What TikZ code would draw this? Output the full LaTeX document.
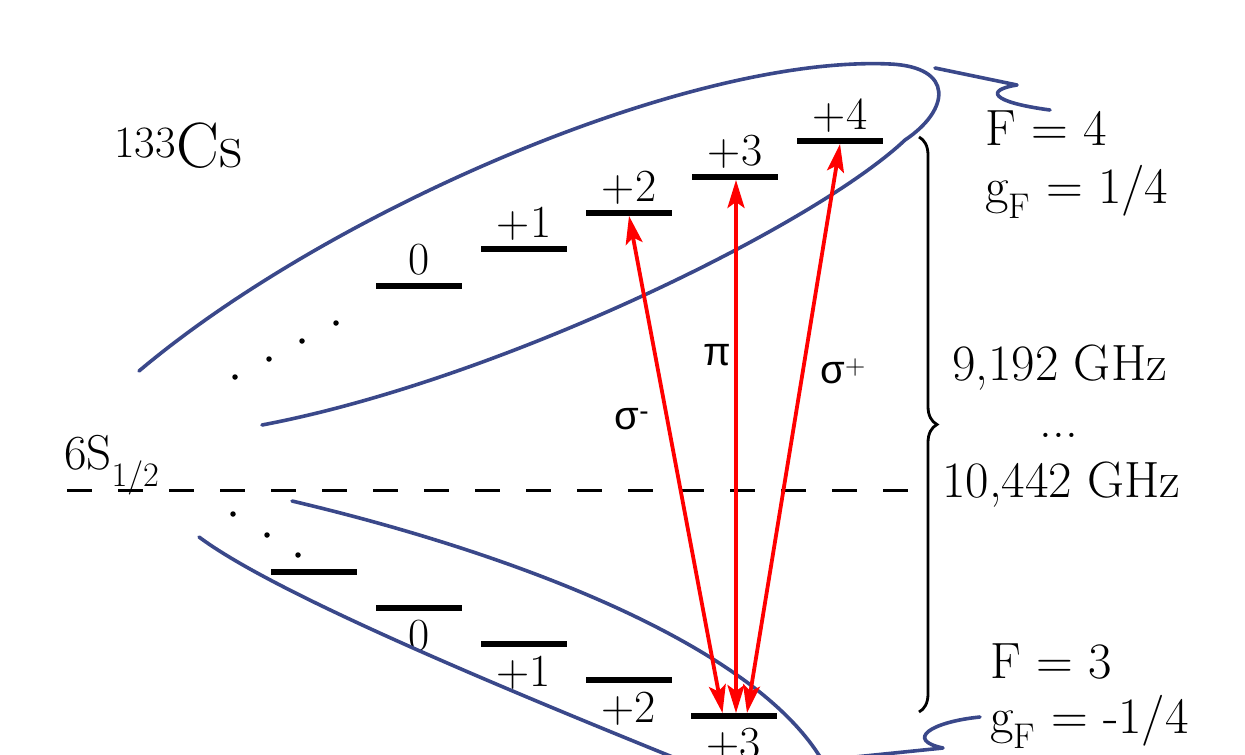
\documentclass[tikz,border=0pt]{standalone}
\usepackage{fontspec}
\newfontfamily\grk{Liberation Sans}
\usetikzlibrary{arrows.meta,decorations.pathreplacing}
\definecolor{ellblue}{RGB}{58,72,138}
\newcommand\bigfs{\fontsize{46}{50}\selectfont}
\newcommand\rfs{\fontsize{51}{55}\selectfont}
\newcommand\hugefs{\fontsize{64}{68}\selectfont}
\newcommand\grkfs{\fontsize{40}{44}\selectfont}
\begin{document}
\begin{tikzpicture}[x=1pt,y=-1pt,
  lvl/.style={fill=black, inner sep=0pt, minimum width=86pt, minimum height=5.5pt},
  lab/.style={anchor=base, inner sep=0pt, font=\bigfs},
  rlab/.style={anchor=base west, inner sep=0pt, font=\rfs},
  ell/.style={draw=ellblue, line width=3.6pt, line cap=round, line join=round},
  arr/.style={draw=red, line width=3.8pt, {Stealth[length=28pt,width=17pt,inset=6pt]}-{Stealth[length=28pt,width=17pt,inset=6pt]}},
  dotm/.style={fill=black, circle, inner sep=0pt, minimum size=5.5pt},
  glab/.style={inner sep=0pt, font=\grk\grkfs}]
\useasboundingbox (0,0) rectangle (1245,755);
\clip (0,0) rectangle (1245,755);
% upper levels F=4
\node[lvl] (u0) at (419,286) {};
\node[lvl] (u1) at (524,249) {};
\node[lvl] (u2) at (629,213) {};
\node[lvl] (u3) at (735,177) {};
\node[lvl] (u4) at (840,141) {};
\node[lab] (tu0) at (419,274) {0};
\node[lab] (tu1) at (524,237) {+1};
\node[lab] (tu2) at (629,201) {+2};
\node[lab] (tu3) at (735,165) {+3};
\node[lab] (tu4) at (840,129) {+4};
% lower levels F=3
\node[lvl] (lm) at (313.5,572) {};
\node[lvl] (l0) at (419,608) {};
\node[lvl] (l1) at (523.5,644) {};
\node[lvl] (l2) at (628.5,680) {};
\node[lvl] (l3) at (733.5,716) {};
\node[lab] (tl0) at (419,650) {0};
\node[lab] (tl1) at (523.5,686) {+1};
\node[lab] (tl2) at (628.5,722) {+2};
\node[lab] (tl3) at (733.5,758) {+3};
% dots
\foreach \p [count=\i] in {(235,377),(269,359),(302,341),(336,323)} \node[dotm] (dt\i) at \p {};
\foreach \p [count=\i] in {(233,514),(267,535),(298,555)} \node[dotm] (db\i) at \p {};
% dashed line
\coordinate (d1) at (67,490);
\coordinate (d2) at (912,490);
\draw[line width=3pt, dash pattern=on 25pt off 26pt] (d1) -- (d2);
\node[anchor=base west, inner sep=0pt, font=\fontsize{49}{53}\selectfont] (s12) at (64,469) {6S\textsubscript{1/2}};
\node[anchor=base west, inner sep=0pt, font=\hugefs] (cs) at (114,167) {\textsuperscript{133}Cs};
% upper ellipse (F=4)
\coordinate (e1) at (139,371);
\coordinate (e2) at (890,64);
\coordinate (e3) at (905,140);
\coordinate (e4) at (262,425);
\draw[ell] (e1) .. controls (330,210) and (690,55) .. (e2)
  .. controls (955,67) and (950,110) .. (e3)
  .. controls (815,225) and (500,380) .. (e4);
% lower ellipse (F=3)
\coordinate (f1) at (292,501);
\coordinate (f2) at (822,760);
\coordinate (f3) at (199,537);
\coordinate (f4) at (680,760);
\draw[ell] (f1) .. controls (500,550) and (750,640) .. (f2);
\draw[ell] (f3) .. controls (270,590) and (470,675) .. (f4);
% squiggles
\coordinate (q1) at (935,68);
\coordinate (q2) at (1017,85);
\coordinate (q3) at (1050,110);
\draw[ell] (q1) -- (q2) .. controls (985,90) and (990,102) .. (q3);
\coordinate (w1) at (845,758);
\coordinate (w2) at (943,748);
\coordinate (w3) at (980,717);
\draw[ell] (w1) -- (w2) .. controls (905,740) and (930,722) .. (w3);
% arrows
\draw[arr] (u2.south) -- ([xshift=-11pt]l3.north);
\draw[arr] ([xshift=1pt]u3.south) -- ([xshift=2.5pt]l3.north);
\draw[arr] (u4.south) -- ([xshift=13.5pt]l3.north);
\node[glab] (sm) at (632,419) {σ\textsuperscript{-}};
\node[glab] (pi) at (717,355) {π};
\node[glab] (sp) at (843,371) {σ\textsuperscript{\rmfamily +}};
% brace
\coordinate (b1) at (919,137);
\coordinate (b2) at (919,712);
\draw[line width=2.8pt, decorate, decoration={brace, amplitude=18pt}] (b1) -- (b2);
% right labels
\node[rlab] (f4) at (985,145) {F = 4};
\node[rlab] (g4) at (985,203) {g\textsubscript{F} = 1/4};
\node[rlab] (fa) at (952,380) {9,192 GHz};
\node[anchor=base, inner sep=0pt, font=\rfs] (fd) at (1059,437) {...};
\node[rlab] (fb) at (942,497) {10,442 GHz};
\node[rlab] (f3) at (990,678) {F = 3};
\node[rlab] (g3) at (990,733) {g\textsubscript{F} = -1/4};
\end{tikzpicture}
\end{document}
